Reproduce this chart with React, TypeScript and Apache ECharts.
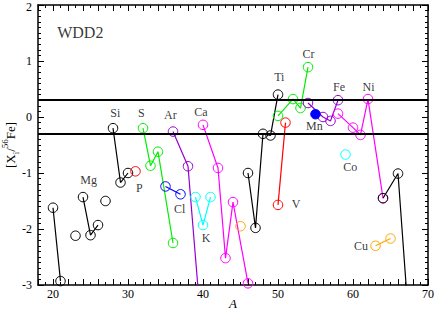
import React, { useEffect, useRef } from "react";
import * as echarts from "echarts";

const xTicks = [20, 30, 40, 50, 60, 70];
const yTicks = [-3, -2, -1, 0, 1, 2];
const bandLevels = [0.3, -0.3];

const ne = [[20, -1.62], [21, -2.93]];
const na = [[23, -2.12]];
const mg = [[24, -1.43], [25, -2.11], [26, -1.93]];
const al = [[27, -1.5]];
const si = [[28, -0.2], [29, -1.17], [30, -1.0]];
const p = [[31, -0.97]];
const s = [[32, -0.2], [33, -0.87], [34, -0.62], [36, -2.25]];
const cl = [[35, -1.24], [37, -1.38]];
const ar = [[36, -0.26], [38, -0.88], [40, -4.14]];
const k = [[39, -1.43], [40, -1.93], [41, -1.43]];
const ca = [[40, -0.14], [42, -0.91], [43, -2.52], [44, -1.52], [46, -2.97]];
const sc = [[45, -1.95]];
const ti = [[46, -1.0], [47, -1.98], [48, -0.3], [49, -0.33], [50, 0.4]];
const v = [[50, -1.57], [51, -0.1]];
const cr = [[50, 0.02], [52, 0.32], [53, 0.16], [54, 0.89]];
const mn = [[55, 0.05]];
const fe = [[54, 0.25], [56, 0.0], [57, -0.07], [58, 0.3]];
const co = [[59, -0.67]];
const ni = [[58, 0.06], [60, -0.19], [61, -0.32], [62, 0.32], [64, -1.45]];
const cu = [[63, -2.3], [65, -2.17]];
const zn = [[64, -1.45], [66, -1.01], [68, -4.7]];

const elementLabels: [string, number, number][] = [
  ["Si", 28.31, 0.07],
  ["S", 31.77, 0.07],
  ["Ar", 35.64, 0.03],
  ["Ca", 39.73, 0.09],
  ["Ti", 50.17, 0.71],
  ["Cr", 54.08, 1.12],
  ["Fe", 58.13, 0.536],
  ["Ni", 62.08, 0.536],
  ["Mn", 54.84, -0.166],
  ["Mg", 24.75, -1.13],
  ["P", 31.51, -1.268],
  ["Cl", 36.88, -1.636],
  ["K", 40.4, -2.154],
  ["Co", 59.64, -0.892],
  ["Cu", 61.07, -2.303],
  ["V", 52.4, -1.559],
];
const titleLabel: [string, number, number] = ["WDD2", 23.64, 1.517];

const FONT = "Liberation Serif, Times New Roman, serif";

const BLACK = "#000000";
const GREEN = "#00ee00";
const BLUE = "#0000ff";
const VIOLET = "#9400d3";
const CYAN = "#00ffff";
const MAGENTA = "#ff00ff";
const ORANGE = "#ffa500";
const RED = "#ff0000";

function lineSeries(name: string, data: number[][], color: string, filled = false) {
  return {
    name,
    type: "line",
    data,
    clip: true,
    symbol: "circle",
    symbolSize: 9.5,
    showSymbol: true,
    lineStyle: { color, width: 1.2 },
    itemStyle: {
      color: filled ? color : "rgba(0,0,0,0)",
      borderColor: color,
      borderWidth: 1,
    },
    emphasis: { disabled: true },
    z: 3,
  };
}

export default function App() {
  const ref = useRef<HTMLDivElement>(null);
  useEffect(() => {
    document.body.style.margin = "0";
    if (!ref.current) return;
    const chart = echarts.init(ref.current, null, { renderer: "svg" });
    const axisCommon = {
      type: "value",
      axisLine: { show: true, onZero: false, lineStyle: { color: "#000", width: 1.5 } },
      splitLine: { show: false },
      axisTick: { show: true, inside: true, length: 6, lineStyle: { color: "#000" } },
      minorTick: { show: true, splitNumber: 10, length: 3, lineStyle: { color: "#000" } },
    };
    const xTickCfg = {
      show: true,
      inside: true,
      length: 6,
      lineStyle: { color: "#000" },
      interval: (_i: number, v: any) => xTicks.includes(Number(v)),
    };
    const option: any = {
      animation: false,
      backgroundColor: "#fff",
      textStyle: { fontFamily: FONT },
      grid: { left: 38, right: 8, top: 5, bottom: 26, containLabel: false, outerBoundsMode: "none" },
      xAxis: [
        {
          ...axisCommon,
          position: "bottom",
          min: 18,
          max: 70,
          interval: 2,
          minorTick: { show: true, splitNumber: 2, length: 3, lineStyle: { color: "#000" } },
          axisTick: xTickCfg,
          axisLabel: {
            color: "#000",
            fontFamily: FONT,
            fontSize: 12,
            margin: 3,
            formatter: (val: number) => (xTicks.includes(val) ? String(val) : ""),
            showMinLabel: true,
            showMaxLabel: true,
          },
          name: "A",
          nameLocation: "middle",
          nameGap: 12,
          nameMoveOverlap: false,
          nameTextStyle: {
            color: "#000",
            fontFamily: FONT,
            fontSize: 13,
            fontStyle: "italic",
            lineHeight: 13,
            verticalAlign: "top",
          },
        },
        {
          ...axisCommon,
          position: "top",
          min: 18,
          max: 70,
          interval: 2,
          minorTick: { show: true, splitNumber: 2, length: 3, lineStyle: { color: "#000" } },
          axisTick: xTickCfg,
          axisLabel: { show: false },
        },
      ],
      yAxis: [
        {
          ...axisCommon,
          position: "left",
          min: -3,
          max: 2,
          interval: 1,
          axisLabel: {
            color: "#000",
            fontFamily: FONT,
            fontSize: 12,
            margin: 6,
            formatter: (val: number) =>
              val === 2 ? "{t|2}" : yTicks.includes(val) ? String(val) : "",
            rich: {
              t: { fontFamily: FONT, fontSize: 12, color: "#000", padding: [4, 0, 0, 0] },
            },
          },
          name: "[X{sub|i}/{sup|56}Fe]",
          nameLocation: "middle",
          nameRotate: 90,
          nameGap: 18,
          nameMoveOverlap: false,
          nameTextStyle: {
            color: "#000",
            fontFamily: FONT,
            fontSize: 13,
            lineHeight: 20,
            rich: {
              sub: { fontFamily: FONT, fontSize: 9, color: "#000", verticalAlign: "bottom", lineHeight: 20 },
              sup: { fontFamily: FONT, fontSize: 9, color: "#000", verticalAlign: "top", lineHeight: 20 },
            },
          },
        },
        {
          ...axisCommon,
          position: "right",
          min: -3,
          max: 2,
          interval: 1,
          axisLabel: { show: false },
        },
      ],
      series: [
        {
          name: "bands",
          type: "line",
          data: [],
          symbol: "none",
          markLine: {
            silent: true,
            symbol: "none",
            label: { show: false },
            lineStyle: { color: "#000", width: 1.8, type: "solid" },
            data: bandLevels.map((y) => ({ yAxis: y })),
          },
          z: 2,
        },
        lineSeries("Ne", ne, BLACK),
        lineSeries("Na", na, BLACK),
        lineSeries("Mg", mg, BLACK),
        lineSeries("Al", al, BLACK),
        lineSeries("Si", si, BLACK),
        lineSeries("P", p, RED),
        lineSeries("S", s, GREEN),
        lineSeries("Cl", cl, BLUE),
        lineSeries("Ar", ar, VIOLET),
        lineSeries("K", k, CYAN),
        lineSeries("Ca", ca, MAGENTA),
        lineSeries("Sc", sc, ORANGE),
        lineSeries("Ti", ti, BLACK),
        lineSeries("V", v, RED),
        lineSeries("Cr", cr, GREEN),
        lineSeries("Fe", fe, VIOLET),
        lineSeries("Mn", mn, BLUE, true),
        lineSeries("Co", co, CYAN),
        lineSeries("Ni", ni, MAGENTA),
        lineSeries("Cu", cu, ORANGE),
        lineSeries("Zn", zn, BLACK),
        {
          name: "labels",
          type: "scatter",
          symbolSize: 0,
          silent: true,
          data: elementLabels.map(([n, x, y]) => ({ name: n, value: [x, y] })),
          label: {
            show: true,
            position: "inside",
            formatter: "{b}",
            color: "#000",
            fontFamily: FONT,
            fontSize: 12,
          },
          z: 5,
        },
        {
          name: "title",
          type: "scatter",
          symbolSize: 0,
          silent: true,
          data: [{ name: titleLabel[0], value: [titleLabel[1], titleLabel[2]] }],
          label: {
            show: true,
            position: "inside",
            formatter: "{b}",
            color: "#000",
            fontFamily: FONT,
            fontSize: 16,
          },
          z: 5,
        },
      ],
    };
    chart.setOption(option);
    return () => chart.dispose();
  }, []);
  return <div ref={ref} style={{ width: 436, height: 311 }} />;
}
